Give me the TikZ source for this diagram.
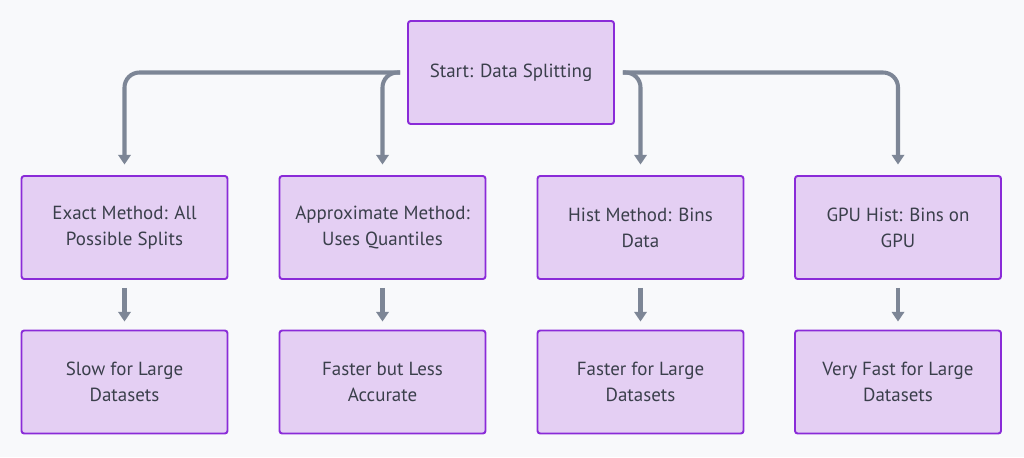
\documentclass[tikz,border=0pt]{standalone}
\usepackage{fontspec}
\setmainfont{PT Sans}
\usetikzlibrary{arrows.meta}
\definecolor{bgcol}{HTML}{F8F9FB}
\definecolor{boxfill}{HTML}{E4CFF3}
\definecolor{boxline}{HTML}{8A2BD8}
\definecolor{linecol}{HTML}{7D8696}
\definecolor{textcol}{HTML}{3A3F4B}
\tikzset{
  stepbox/.style={draw=boxline, fill=boxfill, line width=1.1pt, rounded corners=1.5pt,
    minimum width=4.12cm, minimum height=2.06cm, align=center,
    text=textcol, font=\fontsize{10.8}{14.7}\selectfont},
  conn/.style={draw=linecol, line width=2.3pt, rounded corners=8.5pt,
    -{Triangle[width=7pt,length=5.5pt]}},
}
\begin{document}
\begin{tikzpicture}[x=0.02cm,y=-0.02cm]
  \fill[bgcol] (0,0) rectangle (1024,457);
  \useasboundingbox (0,0) rectangle (1024,457);
  % top
  \node[stepbox] (start) at (511,72.5) {Start: Data Splitting};
  % methods
  \node[stepbox] (exact)  at (124.5,227.5) {Exact Method: All\\Possible Splits};
  \node[stepbox] (approx) at (382.5,227.5) {Approximate Method:\\Uses Quantiles};
  \node[stepbox] (hist)   at (640.5,227.5) {Hist Method: Bins\\Data};
  \node[stepbox] (gpu)    at (898,227.5) {GPU Hist: Bins on\\GPU};
  % results
  \node[stepbox] (slow)   at (124.5,382) {Slow for Large\\Datasets};
  \node[stepbox] (less)   at (382.5,382) {Faster but Less\\Accurate};
  \node[stepbox] (faster) at (640.5,382) {Faster for Large\\Datasets};
  \node[stepbox] (vfast)  at (898,382) {Very Fast for Large\\Datasets};
  % branches
  \coordinate (outl) at ([xshift=-0.14cm]start.west);
  \coordinate (outr) at ([xshift=0.16cm]start.east);
  \draw[conn] (outl) -| ([yshift=0.21cm]exact.north);
  \draw[conn] (outl) -| ([yshift=0.21cm]approx.north);
  \draw[conn] (outr) -| ([yshift=0.21cm]hist.north);
  \draw[conn] (outr) -| ([yshift=0.21cm]gpu.north);
  \draw[conn] ([yshift=-0.16cm]exact.south) -- ([yshift=0.16cm]slow.north);
  \draw[conn] ([yshift=-0.16cm]approx.south) -- ([yshift=0.16cm]less.north);
  \draw[conn] ([yshift=-0.16cm]hist.south) -- ([yshift=0.16cm]faster.north);
  \draw[conn] ([yshift=-0.16cm]gpu.south) -- ([yshift=0.16cm]vfast.north);
\end{tikzpicture}
\end{document}
